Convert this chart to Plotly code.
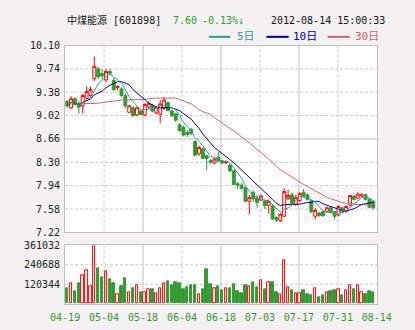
import numpy as np
import pandas as pd
import plotly.graph_objects as go

W, H = 415, 330

# Daily quotes, 中煤能源 601898
opens = [9.24, 9.14, 9.28, 9.20, 9.17, 9.29, 9.33, 9.59, 9.74, 9.67,
         9.57, 9.70, 9.56, 9.45, 9.43, 9.33, 9.07, 9.14, 9.03, 9.09,
         9.03, 9.15, 9.18, 9.06, 9.04, 9.13, 9.22, 9.09, 9.05, 8.88,
         8.84, 8.76, 8.81, 8.62, 8.43, 8.51, 8.40, 8.33, 8.29, 8.38,
         8.32, 8.29, 8.26, 8.17, 7.97, 7.95, 7.91, 7.70, 7.84, 7.75,
         7.72, 7.71, 7.64, 7.63, 7.45, 7.40, 7.47, 7.74, 7.80, 7.65,
         7.71, 7.84, 7.80, 7.71, 7.47, 7.52, 7.54, 7.54, 7.60, 7.54,
         7.49, 7.60, 7.56, 7.64, 7.78, 7.75, 7.78, 7.80, 7.73, 7.70]
highs = [9.26, 9.32, 9.30, 9.25, 9.35, 9.47, 9.47, 9.93, 9.77, 9.73,
         9.74, 9.74, 9.60, 9.49, 9.46, 9.36, 9.19, 9.17, 9.16, 9.11,
         9.21, 9.24, 9.20, 9.17, 9.26, 9.31, 9.24, 9.11, 9.06, 8.90,
         8.86, 8.80, 8.83, 8.64, 8.56, 8.52, 8.42, 8.35, 8.37, 8.46,
         8.34, 8.33, 8.27, 8.18, 8.00, 7.98, 7.92, 7.80, 7.87, 7.80,
         7.81, 7.72, 7.73, 7.64, 7.47, 7.52, 7.90, 7.88, 7.83, 7.80,
         7.84, 7.89, 7.82, 7.72, 7.60, 7.54, 7.56, 7.62, 7.62, 7.55,
         7.64, 7.62, 7.64, 7.80, 7.80, 7.84, 7.82, 7.82, 7.76, 7.72]
lows = [9.14, 9.12, 9.17, 9.05, 9.05, 9.27, 9.31, 9.55, 9.58, 9.58,
        9.53, 9.63, 9.40, 9.41, 9.30, 9.13, 9.06, 9.00, 9.01, 9.03,
        9.01, 9.13, 9.07, 9.04, 8.90, 9.11, 9.08, 9.00, 8.92, 8.77,
        8.70, 8.69, 8.72, 8.40, 8.40, 8.35, 8.18, 8.28, 8.27, 8.30,
        8.27, 8.27, 8.15, 7.95, 7.89, 7.88, 7.69, 7.50, 7.69, 7.60,
        7.70, 7.58, 7.51, 7.41, 7.38, 7.38, 7.46, 7.72, 7.65, 7.63,
        7.69, 7.76, 7.71, 7.52, 7.42, 7.46, 7.46, 7.52, 7.51, 7.42,
        7.47, 7.51, 7.53, 7.62, 7.71, 7.73, 7.76, 7.71, 7.59, 7.57]
closes = [9.17, 9.28, 9.19, 9.15, 9.33, 9.39, 9.42, 9.78, 9.62, 9.63,
          9.70, 9.67, 9.42, 9.47, 9.33, 9.17, 9.17, 9.02, 9.14, 9.04,
          9.19, 9.21, 9.09, 9.15, 9.20, 9.26, 9.10, 9.02, 8.95, 8.79,
          8.72, 8.73, 8.74, 8.41, 8.53, 8.36, 8.36, 8.30, 8.35, 8.32,
          8.29, 8.31, 8.17, 7.96, 7.95, 7.90, 7.70, 7.76, 7.74, 7.68,
          7.78, 7.63, 7.70, 7.43, 7.41, 7.50, 7.85, 7.79, 7.67, 7.76,
          7.82, 7.78, 7.73, 7.54, 7.56, 7.48, 7.48, 7.60, 7.53, 7.47,
          7.62, 7.53, 7.62, 7.79, 7.73, 7.81, 7.81, 7.73, 7.61, 7.60]
volumes = [95200, 129000, 77400, 125000, 176600, 206300, 105100, 361032, 220200, 160700,
           200300, 148800, 125000, 59500, 107100, 154700, 69400, 95200, 111100, 73400,
           73400, 91300, 87300, 63500, 93200, 129000, 136900, 117000, 130900, 125000,
           89300, 103200, 115100, 115100, 59500, 89300, 214200, 119000, 93200, 107100,
           83300, 93200, 93200, 119000, 77400, 65500, 115100, 105100, 130900, 101200,
           146800, 89300, 134900, 130900, 71400, 57500, 265800, 99200, 83300, 65500,
           65500, 83300, 61500, 53600, 93200, 41700, 53600, 71400, 77400, 83300,
           87300, 53600, 81300, 111100, 89300, 111100, 69400, 59500, 77400, 71400]
# 30-day average (its window reaches back before the first session shown)
ma30 = [9.20, 9.20, 9.20, 9.20, 9.20, 9.20, 9.20, 9.21, 9.21, 9.22,
        9.23, 9.24, 9.24, 9.25, 9.26, 9.26, 9.26, 9.27, 9.27, 9.27,
        9.27, 9.28, 9.29, 9.29, 9.29, 9.29, 9.29, 9.29, 9.29, 9.27,
        9.25, 9.23, 9.20, 9.16, 9.11, 9.08, 9.06, 9.04, 8.99, 8.95,
        8.91, 8.86, 8.82, 8.78, 8.74, 8.69, 8.65, 8.60, 8.55, 8.50,
        8.45, 8.41, 8.36, 8.30, 8.24, 8.18, 8.15, 8.11, 8.08, 8.04,
        8.00, 7.96, 7.93, 7.89, 7.86, 7.83, 7.79, 7.76, 7.74, 7.72,
        7.69, 7.68, 7.67, 7.66, 7.66, 7.65, 7.65, 7.64, 7.64, 7.64]

price_ticks = [10.10, 9.74, 9.38, 9.02, 8.66, 8.30, 7.94, 7.58, 7.22]
volume_ticks = [120344, 240688, 361032]
date_labels = ["04-19", "05-04", "05-18", "06-04", "06-18",
               "07-03", "07-17", "07-31", "08-14"]

RED = "#ff0000"
GREEN = "#339933"
TEAL = "#339999"
NAVY = "#000099"
ROSE = "#cc6666"
GRID = "#c8c8c8"
FRAME = "#c0c0c0"
MONO = "DejaVu Sans Mono, Noto Sans CJK SC, monospace"

n = len(closes)
xs = np.arange(n)
ma5 = pd.Series(closes).rolling(5, min_periods=1).mean()
ma10 = pd.Series(closes).rolling(10, min_periods=1).mean()

# pixel -> paper helpers
def px(x):
    return x / W

def py(y):
    return 1 - y / H

x_range = [-0.55, n - 0.1]
grid_x = np.linspace(x_range[0], x_range[1], len(date_labels))

up = [c >= o for o, c in zip(opens, closes)]

fig = go.Figure()
fig.add_trace(go.Candlestick(
    x=xs, open=opens, high=highs, low=lows, close=closes,
    increasing=dict(line=dict(color=RED, width=1), fillcolor="#ffffff"),
    decreasing=dict(line=dict(color=GREEN, width=1), fillcolor=GREEN),
    whiskerwidth=0, showlegend=False, hoverinfo="skip",
    xaxis="x", yaxis="y"))
for series, color in [(ma30, ROSE), (ma10, NAVY), (ma5, TEAL)]:
    fig.add_trace(go.Scatter(x=xs, y=list(series), mode="lines",
                             line=dict(color=color, width=1),
                             showlegend=False, hoverinfo="skip",
                             xaxis="x", yaxis="y"))
fig.add_trace(go.Bar(
    x=xs, y=volumes, width=0.6,
    marker=dict(color=["#ffffff" if u else GREEN for u in up],
                line=dict(color=[RED if u else GREEN for u in up], width=1)),
    showlegend=False, hoverinfo="skip", xaxis="x2", yaxis="y2"))

price_dom = [py(235), py(41)]
vol_dom = [py(309), py(248.3)]
x_dom = [px(54), px(390)]

axis_common = dict(showline=True, mirror=True, linecolor=FRAME, linewidth=1,
                   showgrid=False, zeroline=False, ticks="", fixedrange=True)

fig.update_layout(
    width=W, height=H,
    margin=dict(l=0, r=0, t=0, b=0),
    paper_bgcolor="#f3f1f1", plot_bgcolor="#ffffff",
    boxgap=0.25, boxgroupgap=0.0, bargap=0,
    xaxis=dict(domain=x_dom, range=x_range, anchor="y", showticklabels=False,
               rangeslider=dict(visible=False), **axis_common),
    yaxis=dict(domain=price_dom, range=[price_ticks[-1], price_ticks[0]], anchor="x",
               tickvals=price_ticks, ticktext=[f"{v:.2f}" for v in price_ticks],
               tickfont=dict(family=MONO, size=10, color="#222222"),
               ticklabelstandoff=2, **axis_common),
    xaxis2=dict(domain=x_dom, range=x_range, anchor="y2", matches="x",
                tickvals=list(grid_x), ticktext=date_labels,
                tickfont=dict(family=MONO, size=10, color=GREEN),
                ticklabelstandoff=4, **axis_common),
    yaxis2=dict(domain=vol_dom, range=[0, volume_ticks[-1]], anchor="x2",
                tickvals=volume_ticks, ticktext=[str(v) for v in volume_ticks],
                tickfont=dict(family=MONO, size=10, color="#222222"),
                ticklabelstandoff=2, **axis_common),
)

shapes = []
# price grid: middle line solid, others dashed
for k, v in enumerate(price_ticks[1:-1], start=1):
    solid = (k == len(price_ticks) // 2)
    shapes.append(dict(type="line", xref="x domain", yref="y", x0=0, x1=1, y0=v, y1=v,
                       line=dict(color=FRAME if solid else GRID, width=1,
                                 dash="solid" if solid else "3px,2px"), layer="below"))
for v in volume_ticks[:-1]:
    shapes.append(dict(type="line", xref="x2 domain", yref="y2", x0=0, x1=1, y0=v, y1=v,
                       line=dict(color=GRID, width=1, dash="3px,2px"), layer="below"))
# vertical grid: alternating dashed / solid
for k, gx in enumerate(grid_x[1:-1], start=1):
    solid = (k % 2 == 0)
    for xr, yr in [("x", "y domain"), ("x2", "y2 domain")]:
        shapes.append(dict(type="line", xref=xr, yref=yr, x0=gx, x1=gx, y0=0, y1=1,
                           line=dict(color=FRAME if solid else GRID, width=1,
                                     dash="solid" if solid else "3px,2px"), layer="below"))

# legend keys
legend_items = [("5日", TEAL, 209, 232, 237), ("10日", NAVY, 271, 295, 298), ("30日", ROSE, 337, 361, 364)]
for label, color, x0, x1, tx in legend_items:
    shapes.append(dict(type="line", xref="paper", yref="paper",
                       x0=px(x0), x1=px(x1), y0=py(32), y1=py(32),
                       line=dict(color=color, width=2)))
fig.update_layout(shapes=shapes)

ann = []
def text(s, x, y, color="#111111", size=10, anchor="left", family=MONO):
    ann.append(dict(text=s, x=px(x), y=py(y), xref="paper", yref="paper",
                    xanchor=anchor, yanchor="middle", showarrow=False,
                    font=dict(family=family, size=size, color=color)))

last = closes[-1]
prev = closes[-2]
chg = (last - prev) / prev * 100
text("中煤能源 [601898]", 54, 15)
text(f"{last:.2f}", 168, 15, color=GREEN)
text(f"{chg:.2f}%↓", 199, 15, color=GREEN)
text("2012-08-14 15:00:33", 274, 15)
for label, color, x0, x1, tx in legend_items:
    text(label, tx, 32, color=color, size=11)

# faint site watermark
text("金融界", 350, 197, color="rgba(215,160,160,0.22)", size=20, anchor="center",
     family="Noto Sans CJK SC")
text("JRJ.COM", 329, 222, color="rgba(200,175,175,0.30)", size=9, anchor="center",
     family="DejaVu Sans")
fig.update_layout(annotations=ann)

fig.write_html("out.html")
